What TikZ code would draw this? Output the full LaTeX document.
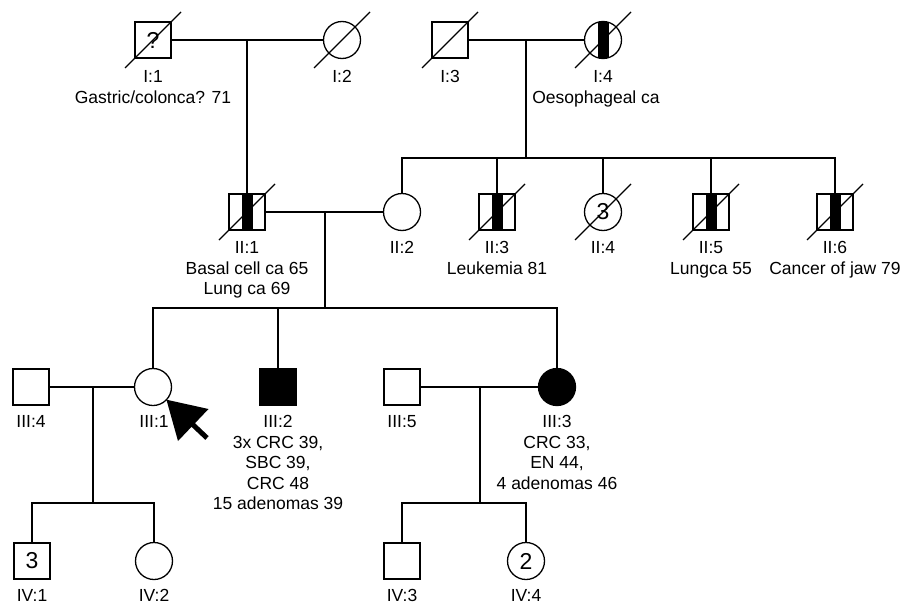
\documentclass[tikz,border=0pt]{standalone}
\usepackage{fontspec}
\setmainfont{Liberation Sans}
\usetikzlibrary{calc}
\begin{document}
\begin{tikzpicture}[x=1pt,y=-1pt,line width=1.3pt,
  male/.style={draw,rectangle,minimum size=36pt,inner sep=0pt,fill=white,font=\fontsize{23}{23}\selectfont},
  female/.style={draw,circle,minimum size=37pt,inner sep=0pt,fill=white,font=\fontsize{23}{23}\selectfont},
  affected/.style={fill=black},
  bar/.style={path picture={\fill[black] ([xshift=-5.5pt]path picture bounding box.south) rectangle ([xshift=5.5pt]path picture bounding box.north);}},
  lbl/.style={anchor=north,inner sep=0pt,align=center,font=\fontsize{17.5}{20.5}\selectfont},
  slash/.style={line width=1.1pt}]
\useasboundingbox (0,0) rectangle (907,605);
% Generation I
\node[male] (I1) at (153,40) {?};
\node[female] (I2) at (342,40) {};
\node[male] (I3) at (450,40) {};
\node[female,bar] (I4) at (603,40) {};
% Generation II
\node[male,bar] (II1) at (247,212) {};
\node[female] (II2) at (402,212) {};
\node[male,bar] (II3) at (497,212) {};
\node[female] (II4) at (603,212) {3};
\node[male,bar] (II5) at (711,212) {};
\node[male,bar] (II6) at (835,212) {};
% Generation III
\node[male] (III4) at (31,387) {};
\node[female] (III1) at (153,387) {};
\node[male,affected] (III2) at (278,387) {};
\node[male] (III5) at (402,387) {};
\node[female,affected] (III3) at (557,387) {};
% Generation IV
\node[male] (IV1) at (32,561) {3};
\node[female] (IV2) at (154,561) {};
\node[male] (IV3) at (402,561) {};
\node[female] (IV4) at (526,561) {2};
% deceased slashes
\foreach \n in {I1,I2,I3,I4,II1,II3,II4,II5,II6}
  \draw[slash] (\n.center) ++(-28,28) -- ++(56,-56);
% Labels
\node[lbl] (lI1) at (153,70) {I:1\\Gastric/colonca? 71};
\node[lbl] (lI2) at (342,70) {I:2};
\node[lbl] (lI3) at (450,70) {I:3};
\node[lbl] (lI4) at (603,70) {I:4};
\node[lbl] (lI4b) at (596,90.5) {Oesophageal ca};
\node[lbl] (lII1) at (247,241) {II:1\\Basal cell ca 65\\Lung ca 69};
\node[lbl] (lII2) at (402,241) {II:2};
\node[lbl] (lII3) at (497,241) {II:3\\Leukemia 81};
\node[lbl] (lII4) at (603,241) {II:4};
\node[lbl] (lII5) at (711,241) {II:5\\Lungca 55};
\node[lbl] (lII6) at (835,241) {II:6\\Cancer of jaw 79};
\node[lbl] (lIII4) at (31,415) {III:4};
\node[lbl] (lIII1) at (154,415) {III:1};
\node[lbl] (lIII2) at (278,415) {III:2\\3x CRC 39,\\SBC 39,\\CRC 48\\15 adenomas 39};
\node[lbl] (lIII5) at (402,415) {III:5};
\node[lbl] (lIII3) at (557,415) {III:3\\CRC 33,\\EN 44,\\4 adenomas 46};
\node[lbl] (lIV1) at (32,589) {IV:1};
\node[lbl] (lIV2) at (154,589) {IV:2};
\node[lbl] (lIV3) at (402,589) {IV:3};
\node[lbl] (lIV4) at (526,589) {IV:4};
% Connectors
\coordinate (mI1) at (247,40);
\coordinate (mI2) at (526,40);
\coordinate (sII) at (526,158);
\coordinate (mII) at (325,212);
\coordinate (sIII) at (325,308);
\coordinate (mIIIa) at (93,387);
\coordinate (sIVa) at (93,503);
\coordinate (mIIIb) at (480,387);
\coordinate (sIVb) at (480,503);
\draw (I1) -- (I2);
\draw (I3) -- (I4);
\draw (mI1) -- (II1);
\draw (mI2) -- (sII);
\draw (II2) |- (sII) -| (II6);
\draw (II3) -- (II3 |- sII);
\draw (II4) -- (II4 |- sII);
\draw (II5) -- (II5 |- sII);
\draw (II1) -- (II2);
\draw (mII) -- (sIII);
\draw (III1) |- (sIII) -| (III3);
\draw (III2) -- (III2 |- sIII);
\draw (III4) -- (III1);
\draw (III5) -- (III3);
\draw (mIIIa) -- (sIVa);
\draw (IV1) |- (sIVa) -| (IV2);
\draw (mIIIb) -- (sIVb);
\draw (IV3) |- (sIVb) -| (IV4);
% proband arrow
\coordinate (arrowtail) at (207,438);
\coordinate (arrowtip) at ($(III1.center)!18.5pt!(arrowtail)$);
\draw[line width=5pt,shorten >=15pt] (arrowtail) -- (arrowtip);
\fill (arrowtip) -- (208.5,409) -- (178,441) -- cycle;
\end{tikzpicture}
\end{document}
